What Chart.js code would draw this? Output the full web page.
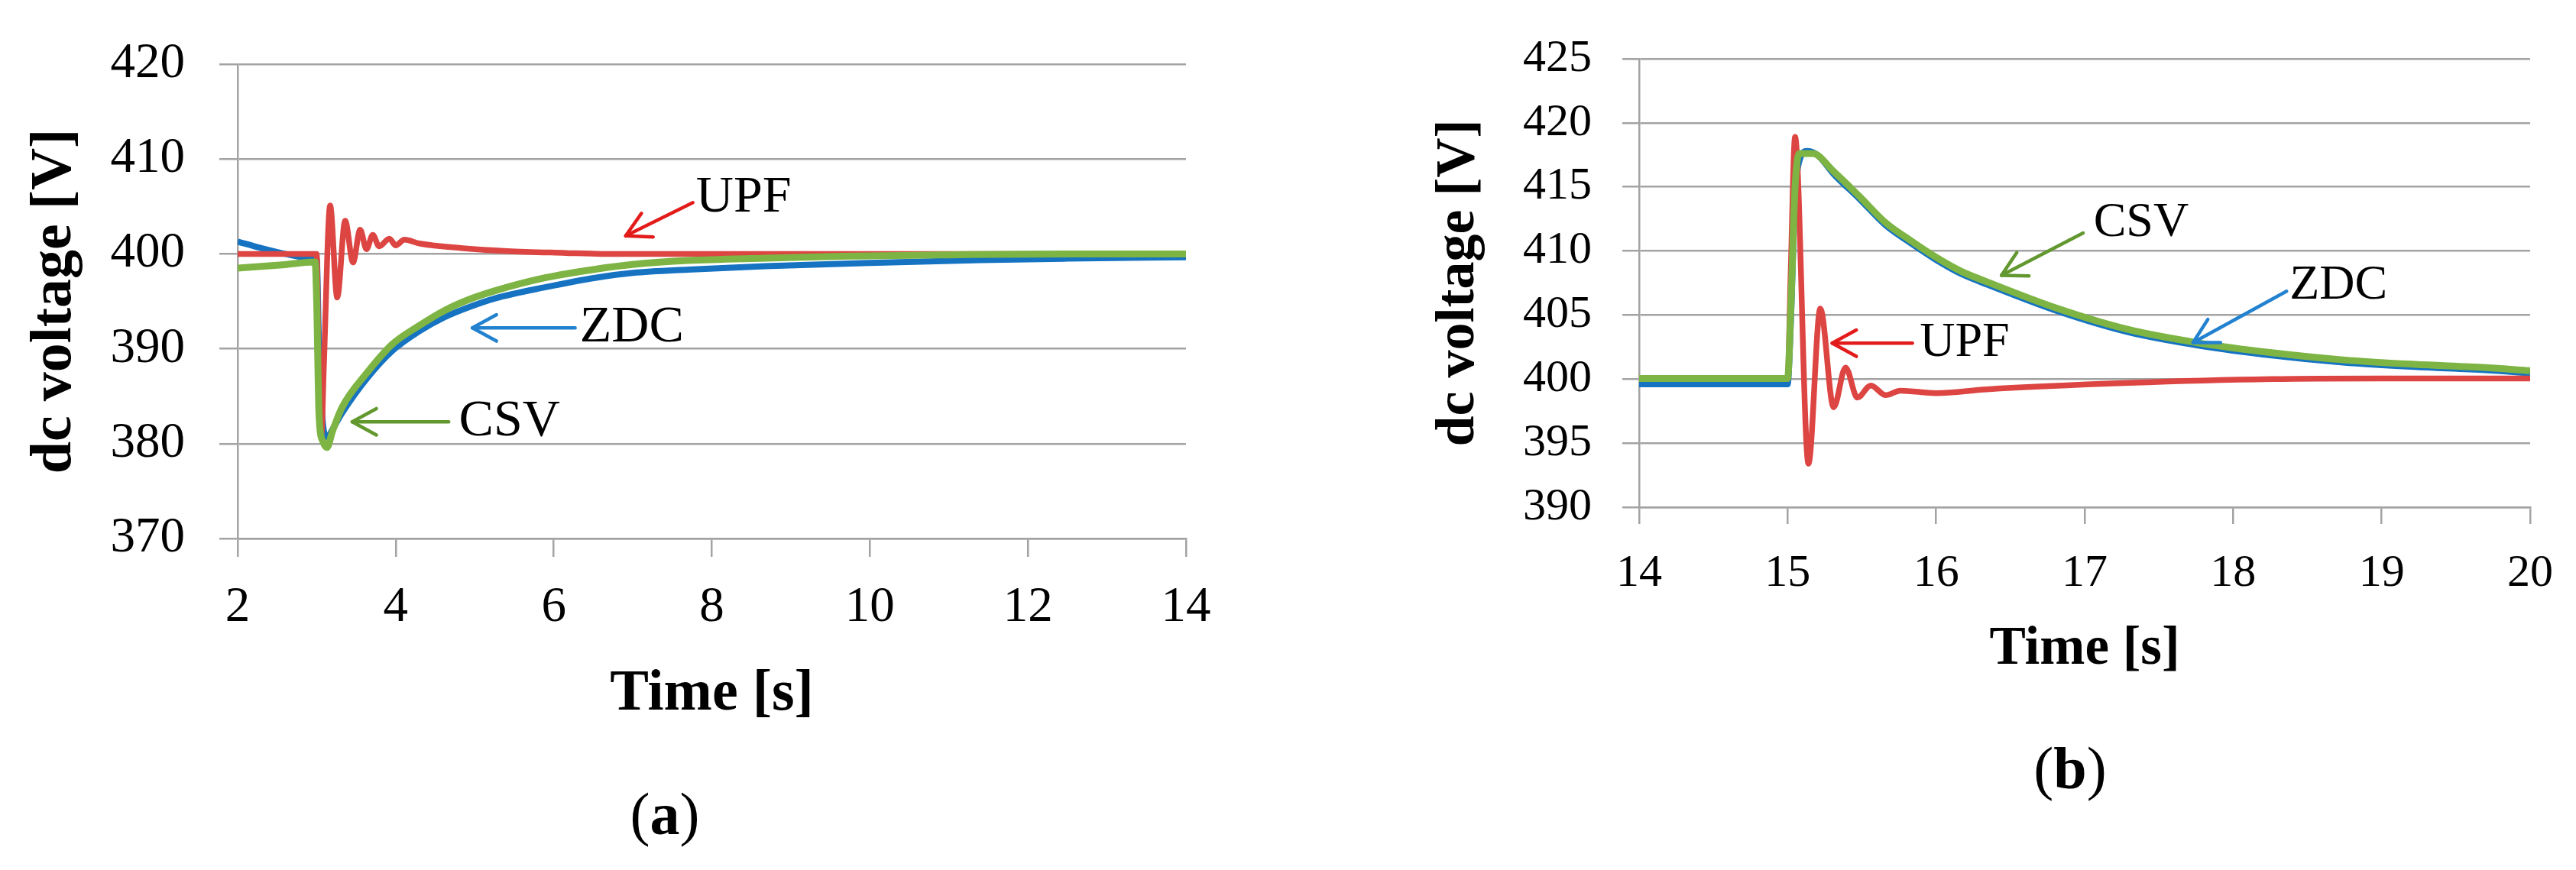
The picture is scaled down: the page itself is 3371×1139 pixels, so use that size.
<!DOCTYPE html>
<html>
<head>
<meta charset="utf-8">
<script src="https://cdn.jsdelivr.net/npm/chart.js@4.4.1/dist/chart.umd.min.js"></script>
<style>
  body { margin: 0; width: 3371px; height: 1139px; position: relative; background: #fff; overflow: hidden; }
  canvas { position: absolute; top: 0; }
  .cap { position: absolute; font-family: 'Liberation Serif', serif; font-size: 78px; line-height: 1; transform: translate(-50%, -50%); color: #000; }
</style>
</head>
<body>
<canvas id="chartA" width="1700" height="1139" style="left:0"></canvas>
<canvas id="chartB" width="1671" height="1139" style="left:1700px"></canvas>
<div class="cap" style="left:870px;top:1066px">(<b>a</b>)</div>
<div class="cap" style="left:2709px;top:1006px">(<b>b</b>)</div>

<script>
// ---- panel (a): voltage dip at t = 3 s ----
const ticksA_x = [2, 14, 2];     // min, max, step
const ticksA_y = [370, 420, 10];

const tA_csv = [2, 2.5, 2.98, 3.0, 3.03, 3.08, 3.13, 3.2, 3.32, 3.64, 3.96, 4.29, 4.61, 4.93, 5.25, 5.9, 6.54, 7.02, 7.7, 8.67, 9.63, 11, 12.5, 14];
const vA_csv = [398.5, 398.8, 399.15, 395, 383, 380.2, 379.6, 381.3, 383.8, 387.5, 390.5, 392.4, 394.0, 395.2, 396.1, 397.5, 398.4, 398.9, 399.3, 399.55, 399.75, 399.9, 400, 400];

const tA_zdc = [2, 2.3, 2.6, 2.9, 3.0, 3.03, 3.08, 3.13, 3.2, 3.32, 3.64, 3.96, 4.29, 4.61, 4.93, 5.25, 5.9, 6.54, 7.0, 7.7, 8.67, 10, 11.4, 12.5, 14];
const vA_zdc = [401.3, 400.6, 400.0, 399.6, 399.5, 390, 382, 380.7, 381.5, 383.2, 386.9, 389.8, 391.8, 393.3, 394.4, 395.3, 396.5, 397.5, 398.0, 398.35, 398.7, 399.05, 399.35, 399.5, 399.65];

const tA_upf = [2, 2.5, 3.0, 3.03, 3.06, 3.09, 3.17, 3.26, 3.36, 3.46, 3.55, 3.63, 3.71, 3.79, 3.92, 4.0, 4.11, 4.3, 4.85, 5.41, 6.15, 6.6, 8, 10, 12, 14];
const vA_upf = [400, 400, 400, 385, 381, 388, 405.1, 395.4, 403.5, 399.1, 402.55, 400.5, 402.0, 400.8, 401.6, 400.9, 401.5, 401.1, 400.6, 400.3, 400.1, 400.0, 400, 400, 400, 400];

// ---- panel (b): voltage swell at t = 15 s ----
const ticksB_x = [14, 20, 1];
const ticksB_y = [390, 425, 5];

const tB_csv = [14, 15.0, 15.02, 15.05, 15.08, 15.17, 15.31, 15.48, 15.66, 15.83, 16.0, 16.17, 16.34, 16.82, 17.3, 17.78, 18.26, 18.74, 19.22, 19.7, 20];
const vB_csv = [400.05, 400.05, 405, 415, 417.6, 417.6, 416.2, 414.3, 412.2, 410.8, 409.5, 408.4, 407.6, 405.5, 403.85, 402.8, 402.06, 401.5, 401.15, 400.9, 400.65];

const tB_zdc = [14, 15.0, 15.02, 15.05, 15.09, 15.13, 15.2, 15.31, 15.48, 15.66, 15.83, 16.0, 16.17, 16.34, 16.82, 17.3, 17.78, 18.26, 18.74, 19.22, 19.7, 20];
const vB_zdc = [399.6, 399.6, 404, 414, 417.4, 417.8, 417.5, 416.0, 414.1, 412.0, 410.6, 409.3, 408.2, 407.4, 405.3, 403.65, 402.6, 401.85, 401.3, 400.95, 400.7, 400.45];

const tB_upf = [14, 15.0, 15.02, 15.05, 15.14, 15.22, 15.31, 15.39, 15.47, 15.56, 15.66, 15.76, 16.0, 16.34, 17.3, 18.26, 19, 20];
const vB_upf = [400, 400, 408, 418.9, 393.4, 405.5, 397.8, 400.9, 398.55, 399.5, 398.75, 399.1, 398.9, 399.2, 399.7, 400.0, 400.05, 400.05];

const seriesNames = ['CSV', 'UPF', 'ZDC'];
const lineColors = ['#7db443', '#dc4542', '#1573c2'];
const lineWidths = [9, 7.5, 8];

// label arrows, positions in data units
const notesA = [
  { text: 'UPF', color: '#e31b1b', tail: [7.76, 405.4], tip: [6.91, 401.9], at: [7.8, 405.9] },
  { text: 'ZDC', color: '#2382cf', tail: [6.27, 392.2], tip: [4.97, 392.2], at: [6.33, 392.2] },
  { text: 'CSV', color: '#62982f', tail: [4.67, 382.3], tip: [3.45, 382.3], at: [4.80, 382.3] }
];
const notesB = [
  { text: 'UPF', color: '#e31b1b', tail: [15.84, 402.8], tip: [15.30, 402.8], at: [15.89, 402.8] },
  { text: 'CSV', color: '#62982f', tail: [16.99, 411.4], tip: [16.44, 408.1], at: [17.06, 412.15] },
  { text: 'ZDC', color: '#2382cf', tail: [18.36, 406.86], tip: [17.73, 402.85], at: [18.38, 407.3] }
];

const GRID = '#a3a3a3';
const FONT = "'Liberation Serif', serif";

function zip(ts, vs) {
  return ts.map((t, i) => ({ x: t, y: vs[i] }));
}

const arrowNotes = {
  id: 'arrowNotes',
  afterDatasetsDraw(chart, args, opts) {
    const { ctx } = chart;
    const sx = chart.scales.x, sy = chart.scales.y;
    ctx.save();
    opts.items.forEach(n => {
      const x0 = sx.getPixelForValue(n.tail[0]), y0 = sy.getPixelForValue(n.tail[1]);
      const x1 = sx.getPixelForValue(n.tip[0]), y1 = sy.getPixelForValue(n.tip[1]);
      ctx.strokeStyle = n.color;
      ctx.lineWidth = opts.width;
      ctx.lineCap = 'round';
      ctx.lineJoin = 'round';
      ctx.beginPath();
      ctx.moveTo(x0, y0);
      ctx.lineTo(x1, y1);
      ctx.stroke();
      const ang = Math.atan2(y1 - y0, x1 - x0);
      ctx.beginPath();
      ctx.moveTo(x1 - opts.head * Math.cos(ang - 0.5), y1 - opts.head * Math.sin(ang - 0.5));
      ctx.lineTo(x1, y1);
      ctx.lineTo(x1 - opts.head * Math.cos(ang + 0.5), y1 - opts.head * Math.sin(ang + 0.5));
      ctx.stroke();
      ctx.fillStyle = '#000';
      ctx.font = opts.fontSize + 'px ' + FONT;
      ctx.textAlign = 'left';
      ctx.textBaseline = 'middle';
      ctx.fillText(n.text, sx.getPixelForValue(n.at[0]), sy.getPixelForValue(n.at[1]));
    });
    ctx.restore();
  }
};

function makePanel(id, p) {
  const datasets = p.series.map((s, i) => ({
    label: seriesNames[i],
    data: zip(s[0], s[1]),
    borderColor: lineColors[i],
    borderWidth: lineWidths[i],
    pointRadius: 0,
    cubicInterpolationMode: 'monotone',
    fill: false
  }));

  return new Chart(document.getElementById(id), {
    type: 'line',
    data: { datasets },
    plugins: [arrowNotes],
    options: {
      responsive: false,
      animation: false,
      devicePixelRatio: 1,
      layout: { padding: { top: p.top, right: p.right, bottom: 0, left: 0 } },
      plugins: {
        legend: { display: false },
        tooltip: { enabled: false },
        arrowNotes: { items: p.notes, width: 4.5, head: 36, fontSize: p.noteSize }
      },
      scales: {
        x: {
          type: 'linear',
          min: p.xt[0], max: p.xt[1],
          afterFit: s => { s.height = p.xHeight; },
          grid: { drawOnChartArea: false, drawTicks: true, tickLength: p.tick, color: GRID, lineWidth: 2.5 },
          border: { display: true, color: GRID, width: 2.5 },
          ticks: {
            stepSize: p.xt[2], autoSkip: false, maxRotation: 0, padding: p.xPad,
            color: '#000', font: { family: FONT, size: p.tickSize }
          },
          title: {
            display: true, text: 'Time [s]', color: '#000',
            font: { family: FONT, size: p.xTitleSize, weight: 'bold' },
            padding: { top: 0, bottom: p.xTitlePad }
          }
        },
        y: {
          min: p.yt[0], max: p.yt[1],
          afterFit: s => { s.width = p.yWidth; },
          grid: { color: GRID, lineWidth: 2.5, tickLength: p.tick },
          border: { display: true, color: GRID, width: 2.5 },
          ticks: {
            stepSize: p.yt[2], padding: p.yPad,
            color: '#000', font: { family: FONT, size: p.tickSize }
          },
          title: {
            display: true, text: 'dc voltage [V]', color: '#000',
            font: { family: FONT, size: p.yTitleSize, weight: 'bold' },
            padding: { top: p.yTitlePad, bottom: 0 }
          }
        }
      }
    }
  });
}

makePanel('chartA', {
  series: [[tA_csv, vA_csv], [tA_upf, vA_upf], [tA_zdc, vA_zdc]],
  notes: notesA,
  xt: ticksA_x, yt: ticksA_y,
  top: 83, right: 148, yWidth: 311, xHeight: 434,
  tick: 24, tickSize: 65, xPad: 28, yPad: 45,
  xTitleSize: 76, xTitlePad: 184, yTitleSize: 76, yTitlePad: 27,
  noteSize: 68
});

makePanel('chartB', {
  series: [[tB_csv, vB_csv], [tB_upf, vB_upf], [tB_zdc, vB_zdc]],
  notes: notesB,
  xt: ticksB_x, yt: ticksB_y,
  top: 77, right: 60, yWidth: 445, xHeight: 475,
  tick: 22, tickSize: 60, xPad: 29, yPad: 40,
  xTitleSize: 71, xTitlePad: 246, yTitleSize: 72, yTitlePad: 166,
  noteSize: 64
});
</script>
</body>
</html>
